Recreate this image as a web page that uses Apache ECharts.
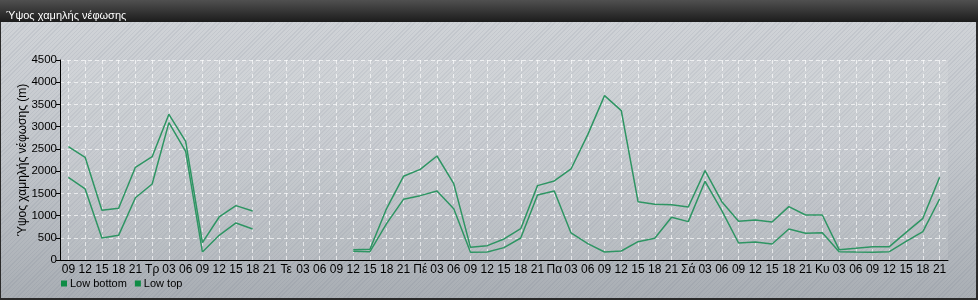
<!DOCTYPE html>
<html>
<head>
<meta charset="utf-8">
<script src="https://cdn.jsdelivr.net/npm/echarts@6/dist/echarts.min.js"></script>
<style>
  html, body { margin: 0; padding: 0; }
  #wrap {
    position: relative; width: 978px; height: 300px; box-sizing: border-box;
    background:
      repeating-linear-gradient(135deg, rgba(90,100,120,0.10) 0px, rgba(90,100,120,0.10) 1px, rgba(255,255,255,0) 1px, rgba(255,255,255,0) 3px),
      linear-gradient(to bottom, #d2d5d9 0%, #c3c7cc 50%, #a9aeb4 100%);
    box-shadow: inset 0 0 0 1px #2a2a2a, inset -1px -1px 0 1px #2a2a2a;
  }
  #chart { position: absolute; left: 0; top: 0; width: 978px; height: 300px; }
</style>
</head>
<body>
<div id="wrap"><div id="chart"></div></div>
<script>
const titleText = 'Ύψος χαμηλής νέφωσης';
const yAxisName = 'Ύψος χαμηλής νέφωσης (m)';
const categories = ['09','12','15','18','21','Τρ','03','06','09','12','15','18','21','Τε','03','06','09','12','15','18','21','Πέ','03','06','09','12','15','18','21','Πα','03','06','09','12','15','18','21','Σά','03','06','09','12','15','18','21','Κυ','03','06','09','12','15','18','21'];
const seriesNames = ['Low bottom', 'Low top'];
const lowBottom = [1860,1600,495,555,1400,1710,3090,2445,180,555,833,698,null,null,null,null,null,195,188,825,1365,1448,1553,1155,173,180,278,495,1463,1553,608,368,180,203,413,488,960,863,1770,1110,383,405,360,698,600,615,188,180,173,188,420,638,1373];
const lowTop = [2550,2310,1118,1163,2085,2325,3278,2670,390,968,1223,1103,null,null,null,null,null,233,240,1163,1883,2040,2340,1718,285,323,473,705,1673,1778,2048,2820,3698,3360,1313,1253,1245,1193,2010,1313,870,900,855,1200,1013,1013,233,263,300,300,623,938,1860];

const lineColor = '#2e9563';
const legendColor = '#0f8c45';
const font = '"Liberation Sans", Arial, sans-serif';

const chart = echarts.init(document.getElementById('chart'), null, { renderer: 'canvas' });
chart.setOption({
  animation: false,
  backgroundColor: 'transparent',
  textStyle: { fontFamily: font },
  graphic: [{
    type: 'rect', left: 0, top: 0, z: -1,
    shape: { width: 978, height: 22 },
    style: { fill: new echarts.graphic.LinearGradient(0, 0, 0, 1, [
      { offset: 0, color: '#505050' }, { offset: 1, color: '#1c1c1c' }]) }
  }],
  title: {
    text: titleText, left: 1, top: 5,
    textStyle: { color: '#ffffff', fontSize: 11, fontWeight: 'normal', fontFamily: font }
  },
  legend: {
    left: 56, top: 273, icon: 'rect', itemWidth: 6, itemHeight: 6, itemGap: 8,
    textStyle: { color: '#000', fontSize: 11, fontFamily: font, padding: [0, 0, 0, -2] },
    data: seriesNames.map(n => ({ name: n, itemStyle: { color: legendColor } }))
  },
  grid: {
    left: 60, right: 30, top: 60, bottom: 40, show: true,
    backgroundColor: 'rgba(255,255,255,0.10)', borderWidth: 0
  },
  xAxis: {
    type: 'category', data: categories, boundaryGap: true,
    axisLine: { lineStyle: { color: '#000', width: 1 } },
    axisTick: { alignWithLabel: true, length: 4, lineStyle: { color: '#000' } },
    axisLabel: { color: '#000', fontSize: 12, margin: 4, interval: 0, fontFamily: font },
    splitLine: { show: true, alignWithLabel: true, interval: 0,
      lineStyle: { color: 'rgba(255,255,255,0.65)', type: [4, 3], width: 1 } }
  },
  yAxis: {
    type: 'value', min: 0, max: 4500, interval: 500,
    name: yAxisName, nameLocation: 'middle', nameGap: 31, nameRotate: 90,
    nameMoveOverlap: false,
    nameTextStyle: { color: '#000', fontSize: 12, fontFamily: font },
    axisLine: { show: true, lineStyle: { color: '#000', width: 1 } },
    axisTick: { show: true, length: 4, lineStyle: { color: '#000' } },
    axisLabel: { color: '#000', fontSize: 11.5, margin: 3, fontFamily: font,
      formatter: v => String(v) },
    splitLine: { show: true, lineStyle: { color: 'rgba(255,255,255,0.65)', type: [4, 3], width: 1 } }
  },
  series: [
    { name: seriesNames[0], type: 'line', data: lowBottom, showSymbol: false, connectNulls: false,
      lineStyle: { color: lineColor, width: 1.5 }, itemStyle: { color: lineColor } },
    { name: seriesNames[1], type: 'line', data: lowTop, showSymbol: false, connectNulls: false,
      lineStyle: { color: lineColor, width: 1.5 }, itemStyle: { color: lineColor } }
  ]
});
</script>
</body>
</html>
